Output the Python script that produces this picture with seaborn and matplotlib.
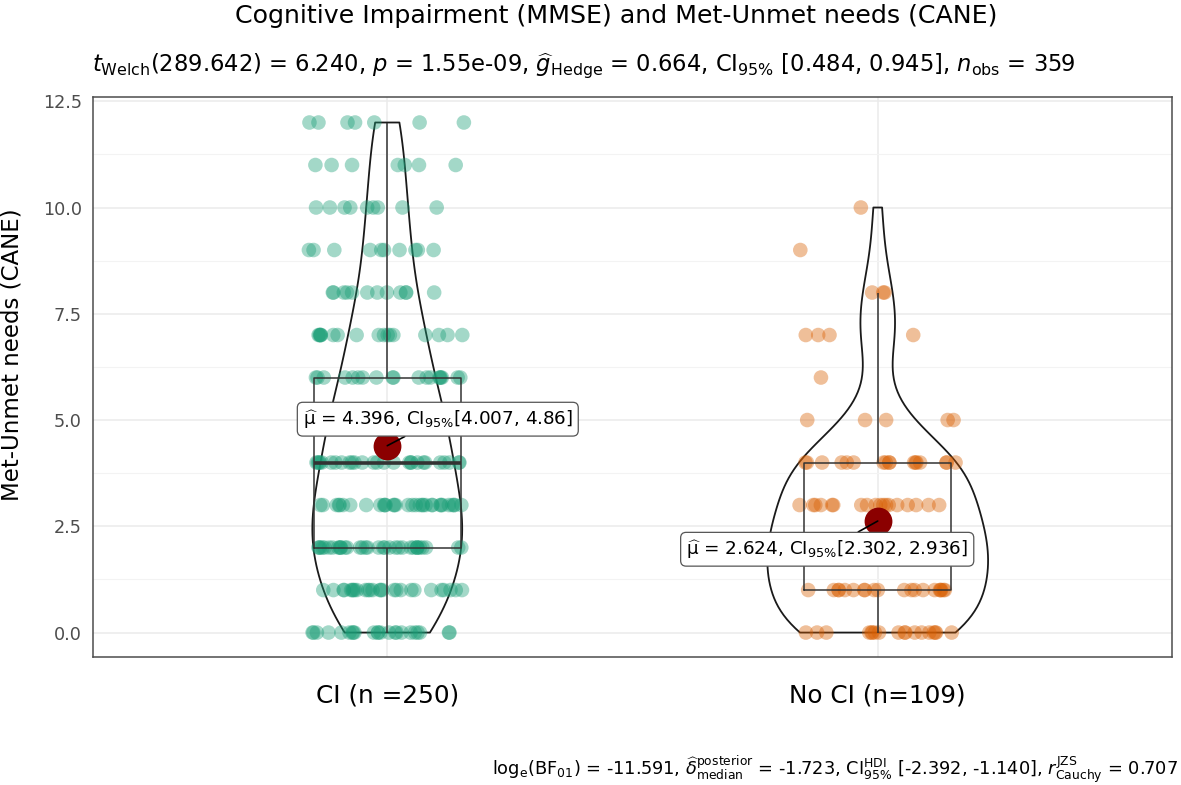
import numpy as np
import pandas as pd
import matplotlib
matplotlib.use("Agg")
import matplotlib.pyplot as plt
import seaborn as sns

sns.set_style("whitegrid")
plt.rcParams['font.family'] = ['DejaVu Sans']
plt.rcParams['mathtext.fontset'] = 'dejavusans'
plt.rcParams['text.color'] = 'black'
plt.rcParams['axes.labelcolor'] = 'black'

# data: CANE scores (0-12) and how many people sit at each score
groups = ['CI (n =250)', 'No CI (n=109)']
scores = [0, 1, 2, 3, 4, 5, 6, 7, 8, 9, 10, 11, 12]
counts_ci = [23, 27, 34, 32, 27, 26, 19, 17, 12, 10, 9, 7, 7]
counts_noci = [18, 20, 21, 18, 17, 5, 1, 4, 3, 1, 1, 0, 0]
point_colors = ['#1B9E77', '#D95F02']

mean_labels = [r'$\widehat{\mathrm{\mu}}$ = 4.396, CI$_{95\%}$[4.007, 4.86]',
               r'$\widehat{\mathrm{\mu}}$ = 2.624, CI$_{95\%}$[2.302, 2.936]']
label_pos = [(0.103, 5.02), (0.897, 1.96)]

title = 'Cognitive Impairment (MMSE) and Met-Unmet needs (CANE)'
subtitle = (r'$t_{\mathrm{Welch}}$(289.642) = 6.240, $p$ = 1.55e-09, '
            r'$\widehat{g}_{\mathrm{Hedge}}$ = 0.664, CI$_{95\%}$ [0.484, 0.945], '
            r'$n_{\mathrm{obs}}$ = 359')
caption = (r'log$_{\mathrm{e}}$(BF$_{01}$) = -11.591, '
           r'$\widehat{\delta}_{\mathrm{median}}^{\mathrm{posterior}}$ = -1.723, '
           r'CI$_{95\%}^{\mathrm{HDI}}$ [-2.392, -1.140], '
           r'$r_{\mathrm{Cauchy}}^{\mathrm{JZS}}$ = 0.707')

df = pd.concat([
    pd.DataFrame({'group': groups[0], 'cane': np.repeat(scores, counts_ci)}),
    pd.DataFrame({'group': groups[1], 'cane': np.repeat(scores, counts_noci)}),
], ignore_index=True)

np.random.seed(3)
fig = plt.figure(figsize=(11.81, 7.85), dpi=100)
ax = fig.add_axes([93/1181, 1-657/785, 1079/1181, 560/785])

sns.stripplot(data=df, x='group', y='cane', hue='group', palette=point_colors,
              jitter=0.16, size=10.5, alpha=0.4, linewidth=0, legend=False,
              ax=ax, zorder=2)
sns.boxplot(data=df, x='group', y='cane', width=0.3, fill=False, color='#333333',
            showfliers=False, showcaps=False, linewidth=1.1,
            medianprops={'linewidth': 2.6}, ax=ax)
sns.violinplot(data=df, x='group', y='cane', fill=False, color='#1a1a1a',
               inner=None, cut=0, density_norm='area', width=0.45,
               bw_adjust=0.9, linewidth=1.3, ax=ax)
sns.pointplot(data=df, x='group', y='cane', estimator='mean', errorbar=None,
              color='#8B0000', markersize=18, linestyle='none', ax=ax)
for line in ax.lines[-2:]:
    line.set_zorder(6)

means = df.groupby('group', sort=False)['cane'].mean().values
for i, (lab, pos) in enumerate(zip(mean_labels, label_pos)):
    ax.annotate(lab, xy=(i, means[i]), xytext=pos, ha='center', va='center',
                fontsize=13.2, zorder=7,
                bbox=dict(boxstyle='round,pad=0.3,rounding_size=0.3',
                          fc='white', ec='#555555', lw=0.9),
                arrowprops=dict(arrowstyle='-', color='black', lw=1.2,
                                shrinkA=0, shrinkB=0))

ax.set_xlim(-0.6, 1.6)
ax.set_ylim(-0.575, 12.6)
ax.set_yticks([0, 2.5, 5, 7.5, 10, 12.5])
ax.set_yticks([1.25, 3.75, 6.25, 8.75, 11.25], minor=True)
ax.grid(True, which='major', color='#EBEBEB', lw=1.1)
ax.grid(True, which='minor', axis='y', color='#F3F3F3', lw=0.8)
ax.set_axisbelow(True)
for s in ax.spines.values():
    s.set_color('#4D4D4D')
    s.set_linewidth(1.1)

ax.set_xlabel('')
ax.set_ylabel('Met-Unmet needs (CANE)', fontsize=16.5)
ax.yaxis.set_label_coords(-0.064, 0.54)
ax.tick_params(axis='x', labelsize=17.8, pad=14, length=5, color='#4D4D4D',
               labelcolor='black')
ax.tick_params(axis='y', which='major', labelsize=12.7, length=5, color='#4D4D4D',
               labelcolor='#4D4D4D', pad=3)
ax.tick_params(axis='y', which='minor', length=0)
ax.set_yticklabels(['0.0', '2.5', '5.0', '7.5', '10.0', '12.5'])

fig.text(616/1181, 1-16/785, title, ha='center', va='center', fontsize=18.2)
fig.text(92/1181, 1-66/785, subtitle, ha='left', va='center', fontsize=16.3)
fig.text(1178/1181, 1-770/785, caption, ha='right', va='center', fontsize=12.8)

fig.savefig('out.png', dpi=100)
